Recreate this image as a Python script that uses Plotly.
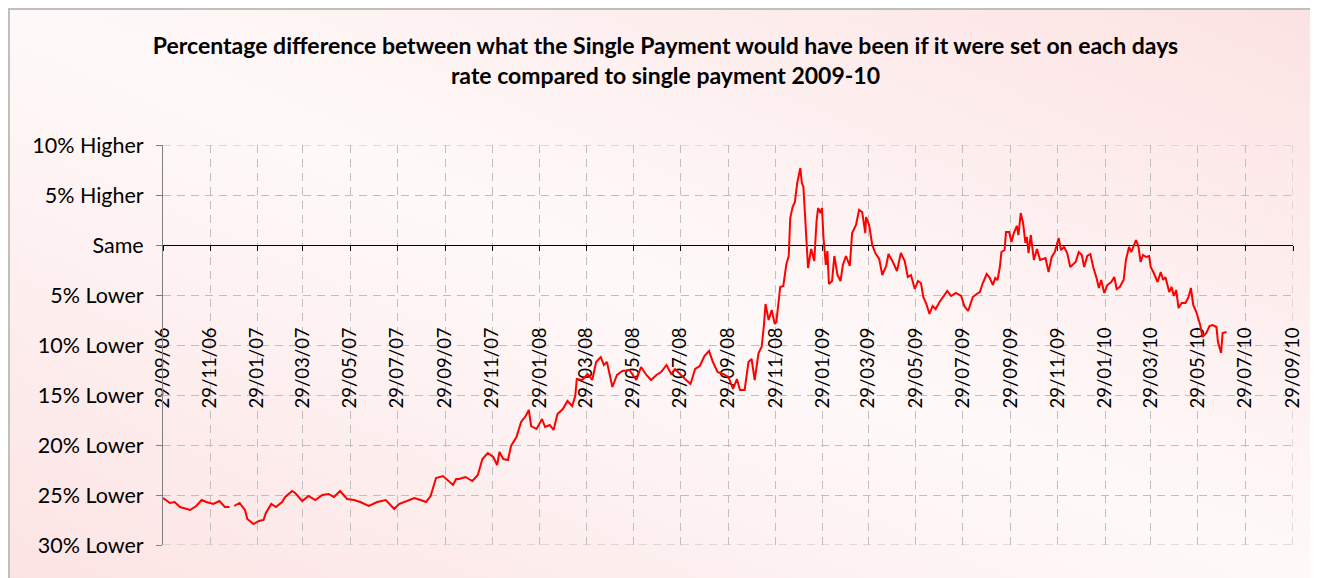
import base64
import plotly.graph_objects as go

# ---------------- data ----------------
dates = [
    "2006-09-29", "2006-10-01", "2006-10-08", "2006-10-14", "2006-10-21", "2006-11-03", "2006-11-11",
    "2006-11-18", "2006-11-24", "2006-12-03", "2006-12-11", "2006-12-18", "2006-12-24", "2006-12-27",
    "2006-12-30", "2007-01-06", "2007-01-13", "2007-01-16", "2007-01-24", "2007-01-31", "2007-02-06",
    "2007-02-09", "2007-02-16", "2007-02-22", "2007-03-02", "2007-03-06", "2007-03-15", "2007-03-19",
    "2007-03-28", "2007-04-05", "2007-04-14", "2007-04-23", "2007-05-01", "2007-05-08", "2007-05-16",
    "2007-05-25", "2007-06-03", "2007-06-11", "2007-06-22", "2007-07-03", "2007-07-14", "2007-07-25",
    "2007-07-31", "2007-08-09", "2007-08-20", "2007-08-28", "2007-09-04", "2007-09-10", "2007-09-17",
    "2007-09-26", "2007-10-05", "2007-10-09", "2007-10-13", "2007-10-17", "2007-10-25",
    "2007-11-03", "2007-11-10", "2007-11-16", "2007-11-23", "2007-11-30", "2007-12-05", "2007-12-08",
    "2007-12-13", "2007-12-19", "2007-12-23", "2007-12-30", "2008-01-05", "2008-01-11", "2008-01-15",
    "2008-01-18", "2008-01-25", "2008-02-01", "2008-02-05", "2008-02-11", "2008-02-16", "2008-02-21",
    "2008-02-28", "2008-03-05", "2008-03-11", "2008-03-15", "2008-03-17", "2008-03-24", "2008-03-31",
    "2008-04-06", "2008-04-11", "2008-04-17", "2008-04-21", "2008-04-25", "2008-05-02", "2008-05-08",
    "2008-05-15", "2008-05-24", "2008-06-02", "2008-06-08", "2008-06-15", "2008-06-21", "2008-06-28",
    "2008-07-04", "2008-07-11", "2008-07-17", "2008-07-22", "2008-07-28", "2008-08-04", "2008-08-11",
    "2008-08-17", "2008-08-23", "2008-08-29", "2008-09-04", "2008-09-09", "2008-09-15", "2008-09-22",
    "2008-09-29", "2008-10-05", "2008-10-10", "2008-10-14", "2008-10-20", "2008-10-25", "2008-10-29",
    "2008-11-02", "2008-11-07", "2008-11-11", "2008-11-14", "2008-11-16", "2008-11-20", "2008-11-24",
    "2008-11-28", "2008-11-30",
    "2008-12-05", "2008-12-09", "2008-12-13", "2008-12-16", "2008-12-18", "2008-12-21", "2008-12-24",
    "2008-12-27", "2008-12-31", "2009-01-02", "2009-01-04", "2009-01-08", "2009-01-10", "2009-01-14",
    "2009-01-18", "2009-01-21", "2009-01-23", "2009-01-26", "2009-01-28", "2009-01-30", "2009-02-02",
    "2009-02-04", "2009-02-06", "2009-02-10", "2009-02-13", "2009-02-17", "2009-02-21", "2009-02-24",
    "2009-02-28", "2009-03-05", "2009-03-08", "2009-03-13", "2009-03-17", "2009-03-21", "2009-03-25",
    "2009-03-26", "2009-03-30", "2009-04-03", "2009-04-07", "2009-04-12", "2009-04-16", "2009-04-21",
    "2009-04-24", "2009-04-29", "2009-05-05", "2009-05-10", "2009-05-15", "2009-05-19", "2009-05-23",
    "2009-05-28", "2009-06-01", "2009-06-05", "2009-06-08", "2009-06-12", "2009-06-16", "2009-06-20",
    "2009-06-24", "2009-06-29", "2009-07-05", "2009-07-09", "2009-07-14", "2009-07-20", "2009-07-27",
    "2009-07-31", "2009-08-05", "2009-08-11", "2009-08-16", "2009-08-20", "2009-08-24", "2009-08-29",
    "2009-09-02", "2009-09-06", "2009-09-09", "2009-09-12", "2009-09-15", "2009-09-17", "2009-09-21",
    "2009-09-23", "2009-09-27", "2009-09-30", "2009-10-03", "2009-10-07", "2009-10-09", "2009-10-12",
    "2009-10-15", "2009-10-18", "2009-10-20", "2009-10-22", "2009-10-25", "2009-10-29", "2009-11-02",
    "2009-11-06", "2009-11-13", "2009-11-17", "2009-11-21", "2009-11-25", "2009-11-30", "2009-12-03",
    "2009-12-07", "2009-12-11", "2009-12-15", "2009-12-22", "2009-12-26", "2009-12-30", "2010-01-02",
    "2010-01-06", "2010-01-10", "2010-01-14", "2010-01-18", "2010-01-21", "2010-01-24", "2010-01-28",
    "2010-02-01", "2010-02-06", "2010-02-10", "2010-02-13", "2010-02-17", "2010-02-22", "2010-02-25",
    "2010-03-01", "2010-03-04", "2010-03-07", "2010-03-10", "2010-03-13", "2010-03-16", "2010-03-19",
    "2010-03-23", "2010-03-27", "2010-03-29", "2010-04-02", "2010-04-07", "2010-04-11", "2010-04-14",
    "2010-04-17", "2010-04-22", "2010-04-25", "2010-04-28", "2010-05-01", "2010-05-04", "2010-05-08",
    "2010-05-13", "2010-05-17", "2010-05-20", "2010-05-23", "2010-05-27", "2010-06-01", "2010-06-04",
    "2010-06-09", "2010-06-13", "2010-06-17", "2010-06-22", "2010-06-24", "2010-06-28", "2010-06-30",
    "2010-07-05",
]

# percentage difference (negative = lower, positive = higher)
pct_diff = [
    -25.3, -25.4, -25.8, -25.7, -26.2, -26.5, -26.1,
    -25.5, -25.7, -25.9, -25.6, -26.2, -26.2, None,
    -26.1, -25.8, -26.5, -27.4, -27.9, -27.6, -27.5,
    -26.8, -25.9, -26.2, -25.7, -25.2, -24.6, -24.8,
    -25.6, -25.1, -25.5, -25.0, -24.9, -25.2, -24.6,
    -25.4, -25.5, -25.7, -26.1, -25.7, -25.5, -26.4,
    -25.9, -25.6, -25.3, -25.5, -25.7, -25.1, -23.3,
    -23.1, -23.7, -24.0, -23.4, -23.4, -23.2,
    -23.6, -23.0, -21.4, -20.8, -21.2, -22.0, -20.7,
    -21.4, -21.5, -20.1, -19.2, -17.7, -17.1, -16.5,
    -18.1, -18.4, -17.4, -18.2, -18.0, -18.5, -16.9,
    -16.4, -15.6, -16.1, -15.1, -13.4, -13.5, -12.9,
    -13.5, -11.7, -11.2, -12.0, -11.7, -14.2, -13.0,
    -12.6, -12.5, -13.5, -12.2, -13.0, -13.5, -13.0,
    -12.7, -12.0, -12.9, -12.4, -12.9, -13.4, -13.9,
    -12.4, -12.1, -11.1, -10.6, -11.7, -12.7, -12.9,
    -13.2, -14.4, -13.4, -14.5, -14.5, -11.7, -11.4,
    -13.5, -10.8, -10.2, -8.0, -5.9, -7.5, -6.5,
    -7.9, -7.7,
    -4.2, -4.1, -1.9, -1.1, 2.7, 3.8, 4.3,
    6.2, 7.7, 6.2, 5.8, -0.4, -2.3, -0.4,
    -1.6, 2.4, 3.7, 3.2, 3.7, 0.7, -2.0,
    -0.6, -3.9, -3.6, -1.1, -3.0, -3.6, -2.0,
    -1.1, -2.1, 1.2, 2.0, 3.5, 3.3, 1.2,
    2.8, 2.0, 0.0, -0.8, -1.4, -3.0, -2.1,
    -0.9, -1.6, -2.6, -0.8, -1.6, -3.2, -3.0,
    -4.4, -3.6, -3.8, -5.2, -5.9, -6.9, -6.1,
    -6.4, -5.7, -5.1, -4.6, -5.1, -4.8, -5.1,
    -6.1, -6.6, -5.2, -4.9, -4.7, -3.8, -2.9,
    -3.3, -4.0, -3.3, -3.5, -2.2, -0.7, -0.5,
    1.3, 1.3, 0.3, 1.2, 1.9, 1.0, 3.2,
    2.2, 0.2, 0.8, -0.8, 1.0, -1.5, -0.4,
    -1.5, -1.3, -2.7, -1.2, -0.7, 0.7, -0.5,
    -0.2, -0.8, -2.2, -1.7, -0.7, -1.0, -2.2,
    -1.1, -0.9, -2.3, -3.3, -4.3, -3.5, -4.8,
    -4.0, -3.7, -3.2, -4.4, -4.2, -3.5, -1.5,
    -0.2, -0.7, 0.0, 0.5, -0.1, -1.7, -1.0,
    -1.2, -1.1, -2.2, -2.8, -3.7, -2.7, -3.5,
    -3.2, -4.7, -4.2, -5.1, -4.5, -6.3, -5.8,
    -5.8, -5.2, -4.3, -6.0, -6.7, -8.0, -9.2,
    -8.8, -8.1, -8.0, -8.2, -9.7, -10.8, -8.8,
    -8.7,
]

tick_dates = [
    "2006-09-29", "2006-11-29", "2007-01-29", "2007-03-29", "2007-05-29", "2007-07-29", "2007-09-29",
    "2007-11-29", "2008-01-29", "2008-03-29", "2008-05-29", "2008-07-29", "2008-09-29", "2008-11-29",
    "2009-01-29", "2009-03-29", "2009-05-29", "2009-07-29", "2009-09-29", "2009-11-29", "2010-01-29",
    "2010-03-29", "2010-05-29", "2010-07-29", "2010-09-29",
]
tick_labels = [
    "29/09/06", "29/11/06", "29/01/07", "29/03/07", "29/05/07", "29/07/07", "29/09/07",
    "29/11/07", "29/01/08", "29/03/08", "29/05/08", "29/07/08", "29/09/08", "29/11/08",
    "29/01/09", "29/03/09", "29/05/09", "29/07/09", "29/09/09", "29/11/09", "29/01/10",
    "29/03/10", "29/05/10", "29/07/10", "29/09/10",
]
y_ticks = [-30, -25, -20, -15, -10, -5, 0, 5, 10]
y_labels = ["30% Lower", "25% Lower", "20% Lower", "15% Lower", "10% Lower", "5% Lower",
            "Same", "5% Higher", "10% Higher"]

title_text = ("Percentage difference between what the Single Payment would have been if it were set on each days"
              "<br>rate compared to single payment 2009-10")

# ---------------- layout geometry (figure pixels) ----------------
W, H = 1318, 578
L, R, T, B = 155, 33, 137, 41
PW, PH = W - L - R, H - T - B


def px_x(px):
    return (px - L) / PW


def px_y(py):
    return (H - B - py) / PH


FONT = "Lato"
GRID = "#BFBFBF"
DASH = "8px,6px"

svg = (
    '<svg xmlns="http://www.w3.org/2000/svg" width="1318" height="578" viewBox="0 0 1318 578" '
    'preserveAspectRatio="none"><defs><linearGradient id="g" x1="0" y1="1" x2="1" y2="0">'
    '<stop offset="0" stop-color="#FCE3E3"/><stop offset="0.5" stop-color="#FFF9F9"/>'
    '<stop offset="1" stop-color="#FCE2E2"/></linearGradient></defs>'
    '<rect width="1318" height="578" fill="url(#g)"/></svg>'
)
bg_uri = "data:image/svg+xml;base64," + base64.b64encode(svg.encode()).decode()

fig = go.Figure()
fig.add_trace(go.Scatter(
    x=dates, y=pct_diff, mode="lines", xaxis="x2", yaxis="y",
    line=dict(color="#FF0000", width=2),
    connectgaps=False, hoverinfo="x+y", showlegend=False,
))

grid_line = dict(color=GRID, width=1, dash=DASH)

fig.update_layout(
    width=W, height=H,
    margin=dict(l=L, r=R, t=T, b=B, pad=0),
    paper_bgcolor="white",
    plot_bgcolor="rgba(0,0,0,0)",
    showlegend=False,
    title=dict(
        text=title_text, x=657.5 / W, xref="container", xanchor="center",
        y=1 - 46 / H, yref="container", yanchor="middle",
        font=dict(family=FONT, size=23, color="black", weight="bold"),
    ),
    xaxis=dict(
        type="date", range=[tick_dates[0], tick_dates[-1]],
        tickmode="array", tickvals=tick_dates, showticklabels=False,
        showgrid=True, gridcolor=GRID, griddash=DASH, gridwidth=1,
        zeroline=False, showline=False, ticks="",
    ),
    xaxis2=dict(
        type="date", range=[tick_dates[0], tick_dates[-1]], overlaying="x",
        anchor="free", position=0.75, side="bottom", layer="below traces",
        tickmode="array", tickvals=tick_dates, ticktext=tick_labels,
        tickangle=-90, ticklabelstandoff=69,
        tickfont=dict(family=FONT, size=18.5, color="black"),
        showline=True, linecolor="black", linewidth=1,
        ticks="outside", ticklen=5, tickcolor="black", tickwidth=1,
        showgrid=False, zeroline=False,
    ),
    yaxis=dict(
        range=[-30, 10], tickmode="array", tickvals=y_ticks, ticktext=y_labels,
        tickfont=dict(family=FONT, size=21.5, color="black"),
        showgrid=True, gridcolor=GRID, griddash=DASH, gridwidth=1,
        zeroline=False, showline=True, linecolor="#7F7F7F", linewidth=1,
        ticks="outside", ticklen=6, tickcolor="#7F7F7F", ticklabelstandoff=8,
    ),
    images=[dict(
        source=bg_uri, xref="paper", yref="paper",
        x=px_x(0), y=px_y(0), sizex=W / PW, sizey=H / PH,
        xanchor="left", yanchor="top", sizing="stretch", layer="below",
    )],
    shapes=[
        # outer chart border (top and left edges)
        dict(type="line", xref="paper", yref="paper", x0=px_x(0), x1=px_x(W), y0=px_y(1), y1=px_y(1),
             line=dict(color="#BFBFBF", width=2)),
        dict(type="line", xref="paper", yref="paper", x0=px_x(1), x1=px_x(1), y0=px_y(0), y1=px_y(H),
             line=dict(color="#BFBFBF", width=2)),
        # plot-area edge gridlines
        dict(type="line", xref="x", yref="paper", x0=tick_dates[-1], x1=tick_dates[-1], y0=0, y1=1,
             line=grid_line, layer="below"),
        dict(type="line", xref="paper", yref="y", x0=0, x1=1, y0=y_ticks[-1], y1=y_ticks[-1],
             line=grid_line, layer="below"),
        dict(type="line", xref="paper", yref="y", x0=0, x1=1, y0=y_ticks[0], y1=y_ticks[0],
             line=grid_line, layer="below"),
    ],
)

fig.write_html("out.html")
